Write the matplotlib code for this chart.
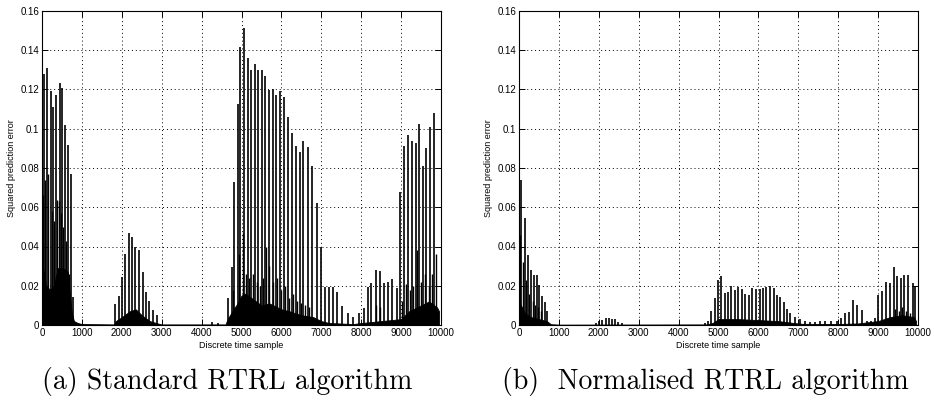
import numpy as np
import matplotlib
matplotlib.use('Agg')
import matplotlib.pyplot as plt
from matplotlib.ticker import FuncFormatter

# ---- (a) standard RTRL: main spike peaks ----
std_t = [50, 134, 218, 276, 360, 443, 510, 577, 653, 720, 778,
         1841, 1925, 2017, 2092, 2176, 2259, 2343, 2435, 2519, 2603, 2687, 2787, 2870,
         4250, 4400,
         4661, 4753, 4820, 4904, 4971, 5071, 5155, 5238, 5339, 5423, 5506, 5598,
         5682, 5782, 5866, 5967, 6067, 6176, 6276, 6368, 6460, 6552, 6678, 6778,
         6887, 6987, 7096, 7197, 7305, 7405, 7531, 7657, 7782, 7950, 8059, 8168,
         8251, 8360, 8460, 8569, 8669, 8770, 8887, 8979, 9071, 9163, 9264, 9364,
         9456, 9561, 9628, 9728, 9828]
std_v = [0.128, 0.131, 0.119, 0.111, 0.117, 0.1235, 0.121, 0.102, 0.0915, 0.077, 0.0145,
         0.0107, 0.015, 0.0246, 0.036, 0.047, 0.0446, 0.040, 0.038, 0.0268, 0.0168, 0.0122, 0.0076, 0.005,
         0.0015, 0.001,
         0.0136, 0.0297, 0.073, 0.1125, 0.1417, 0.1515, 0.1362, 0.1298, 0.1332, 0.1298, 0.130, 0.127,
         0.1196, 0.120, 0.117, 0.119, 0.116, 0.106, 0.098, 0.091, 0.088, 0.094, 0.0905, 0.081,
         0.062, 0.040, 0.0192, 0.0195, 0.0192, 0.017, 0.0097, 0.006, 0.004, 0.006, 0.0085, 0.0195,
         0.0215, 0.028, 0.0277, 0.0215, 0.022, 0.0232, 0.019, 0.068, 0.0913, 0.0967, 0.094, 0.0925,
         0.1026, 0.081, 0.090, 0.1007, 0.108]

# secondary (shorter) spikes next to the main ones
std_t2 = [20, 70, 150, 240, 300, 380, 420, 480, 530, 600, 680,
          4780, 4930, 5030, 5110, 5200, 5300, 5380, 5460, 5540, 5620, 5700, 5800, 5900,
          6000, 6100, 6200, 6300, 6400, 6500, 6600, 6700,
          8380, 8480, 9020, 9120, 9220, 9310, 9410, 9500, 9600, 9690, 9780, 9870]
std_v2 = [0.066, 0.074, 0.077, 0.058, 0.053, 0.0636, 0.063, 0.057, 0.050, 0.043, 0.026,
          0.018, 0.036, 0.047, 0.026, 0.024, 0.026, 0.022, 0.02, 0.024, 0.040, 0.030, 0.022, 0.024,
          0.018, 0.020, 0.014, 0.016, 0.012, 0.011, 0.010, 0.009,
          0.010, 0.009, 0.012, 0.021, 0.018, 0.02, 0.038, 0.022, 0.026, 0.02, 0.026, 0.036]

# dense black floor under the spikes
std_bt = [0, 40, 100, 200, 300, 350, 400, 500, 600, 650, 700, 750, 800, 900, 1000,
          1800, 1850, 2000, 2200, 2350, 2500, 2700, 2900, 3000,
          4600, 4650, 4800, 4900, 5000, 5100, 5300, 5500, 5700, 6000, 6200, 6500, 6800,
          7000, 7200, 7800, 8000, 8500, 9000, 9200, 9500, 9700, 9900, 9950]
std_bv = [0.03, 0.028, 0.02, 0.018, 0.02, 0.025, 0.029, 0.029, 0.028, 0.027, 0.015, 0.006, 0.002, 0.001, 0.0005,
          0.0003, 0.002, 0.004, 0.007, 0.008, 0.005, 0.002, 0.0008, 0.0003,
          0.0003, 0.003, 0.008, 0.011, 0.015, 0.016, 0.013, 0.01, 0.011, 0.008, 0.007, 0.005, 0.004,
          0.002, 0.001, 0.0005, 0.001, 0.002, 0.003, 0.007, 0.01, 0.012, 0.009, 0.007]

# ---- (b) normalised RTRL ----
nrm_t = [58, 142, 225, 300, 375, 442, 508, 575, 642, 709,
         1930, 2010, 2090, 2170, 2250, 2330, 2410, 2490, 2570,
         4661, 4736, 4820, 4904, 4987, 5071, 5155, 5239, 5322, 5415, 5499, 5583,
         5675, 5767, 5851, 5943, 6035, 6111, 6203, 6287, 6379, 6463, 6547, 6631,
         6715, 6799, 6916, 7042, 7168, 7302, 7419, 7545, 7670, 7821, 7963, 8072,
         8181, 8265, 8382, 8483, 8600, 8717, 8826, 8927, 8994, 9095, 9195, 9287,
         9388, 9480, 9572, 9656, 9757, 9866, 9916]
nrm_v = [0.0739, 0.0544, 0.0357, 0.028, 0.0256, 0.0256, 0.0205, 0.015, 0.0115, 0.0073,
         0.001, 0.002, 0.0025, 0.0035, 0.0034, 0.0033, 0.0033, 0.0015, 0.0008,
         0.0008, 0.0022, 0.0073, 0.0136, 0.0229, 0.0251, 0.0161, 0.0168, 0.0197, 0.0178, 0.0195, 0.0183,
         0.0158, 0.0153, 0.0188, 0.0181, 0.0181, 0.0188, 0.0192, 0.0197, 0.0186, 0.0154, 0.0141, 0.0115,
         0.0081, 0.0059, 0.0039, 0.003, 0.0022, 0.0017, 0.0014, 0.0022, 0.0022, 0.0022, 0.0022, 0.0034,
         0.0061, 0.0068, 0.0127, 0.0103, 0.0078, 0.0022, 0.0022, 0.0034, 0.0153, 0.0171, 0.0219, 0.0212,
         0.0297, 0.0251, 0.0239, 0.0256, 0.0254, 0.0212, 0.020]

nrm_t2 = [25, 95, 170, 260, 340, 410, 480, 540, 9430, 9520, 9610, 9700, 9800]
nrm_v2 = [0.046, 0.032, 0.023, 0.016, 0.012, 0.010, 0.009, 0.007, 0.008, 0.007, 0.009, 0.007, 0.006]

nrm_bt = [0, 50, 150, 300, 500, 700, 760, 800, 1000, 4700, 4850, 5000, 5500, 6000,
          6500, 6900, 7100, 8000, 8500, 9000, 9300, 9600, 9900, 9950]
nrm_bv = [0.012, 0.01, 0.006, 0.004, 0.003, 0.002, 0.001, 0.0004, 0.0002, 0.0003, 0.001, 0.003,
          0.003, 0.0025, 0.002, 0.001, 0.0006, 0.0005, 0.0008, 0.002, 0.004, 0.005, 0.004, 0.002]

panels = [
    (std_t, std_v, std_t2, std_v2, std_bt, std_bv, '(a) Standard RTRL algorithm'),
    (nrm_t, nrm_v, nrm_t2, nrm_v2, nrm_bt, nrm_bv, '(b)  Normalised RTRL algorithm'),
]

plt.rcParams['font.family'] = ['Liberation Sans', 'DejaVu Sans']

fig = plt.figure(figsize=(9.34, 4.03), dpi=100)
lefts = [42 / 934, 519 / 934]
cap_x = [227 / 934, 705 / 934]

for k, (t, v, t2, v2, bt, bv, cap) in enumerate(panels):
    ax = fig.add_axes([lefts[k], 78 / 403, 399 / 934, 314 / 403])
    ax.fill_between(bt, 0, bv, color='black', lw=0.6)
    ax.vlines(t2, 0, v2, color='black', lw=1.0)
    ax.vlines(t, 0, v, color='black', lw=1.2)
    ax.set_xlim(0, 10000)
    ax.set_ylim(0, 0.16)
    ax.set_xticks(np.arange(0, 10001, 1000))
    ax.set_yticks(np.arange(0, 0.1601, 0.02))
    ax.yaxis.set_major_formatter(FuncFormatter(lambda y, p: '%g' % round(y, 2)))
    ax.grid(True, color='black', linestyle=(0, (1, 3)), lw=0.7)
    ax.tick_params(direction='in', length=4, width=0.7, top=True, right=True,
                   labelsize=7, pad=2)
    for s in ax.spines.values():
        s.set_linewidth(0.8)
    ax.set_xlabel('Discrete time sample', fontsize=6.5, labelpad=2)
    ax.set_ylabel('Squared prediction error', fontsize=6.5, labelpad=3)
    fig.text(cap_x[k], 21 / 403, cap, family='cmr10', fontsize=20,
             ha='center', va='center')

fig.savefig('out.png', dpi=100)
